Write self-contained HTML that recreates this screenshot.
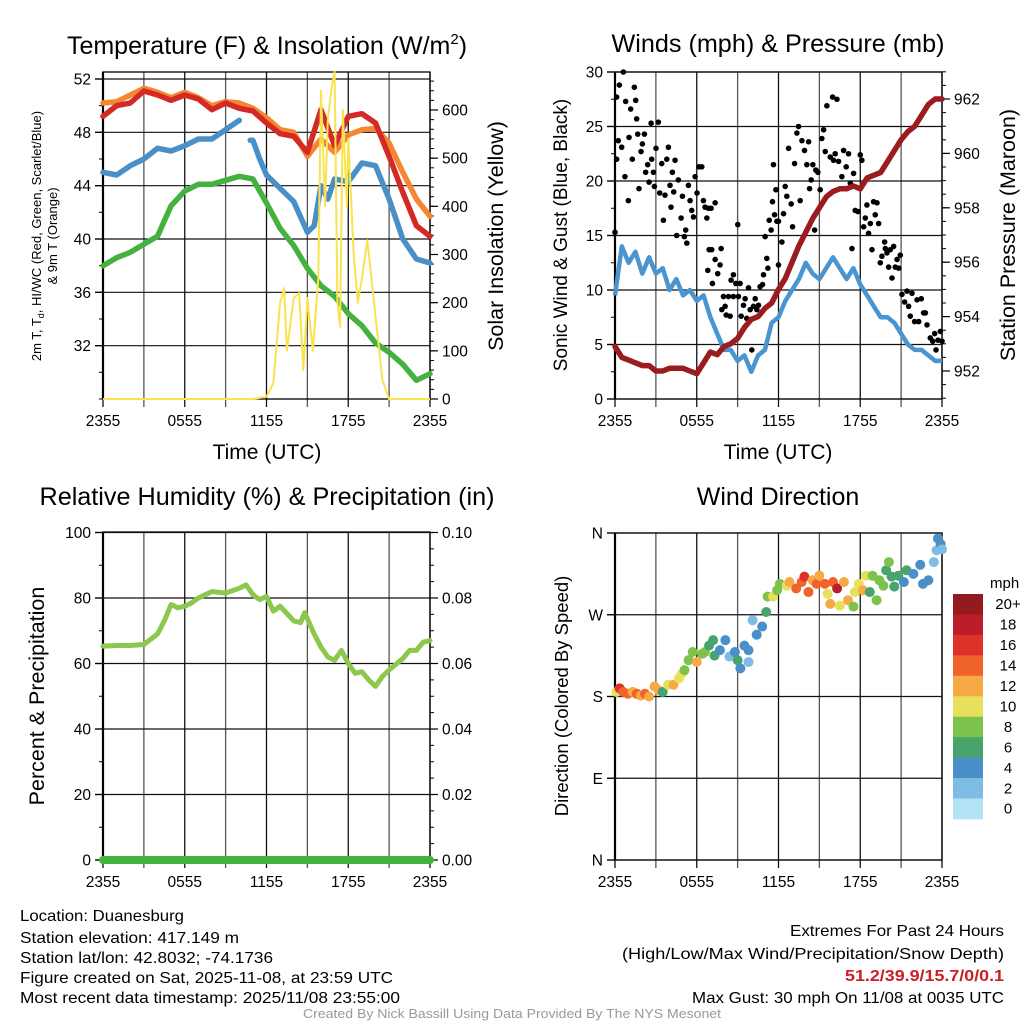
<!DOCTYPE html>
<html><head><meta charset="utf-8"><style>
html,body{margin:0;padding:0;background:#fff;}
svg{display:block;font-family:"Liberation Sans",sans-serif;}
</style></head><body>
<svg id="fig" width="1024" height="1024" viewBox="0 0 1024 1024" xmlns="http://www.w3.org/2000/svg">
<text x="267" y="54" font-size="25" text-anchor="middle">Temperature (F) &amp; Insolation (W/m<tspan dy="-10" font-size="15">2</tspan><tspan dy="10">)</tspan></text>
<text x="778" y="52" font-size="25" text-anchor="middle" textLength="333" lengthAdjust="spacingAndGlyphs">Winds (mph) &amp; Pressure (mb)</text>
<text x="267" y="505" font-size="25" text-anchor="middle" textLength="455" lengthAdjust="spacingAndGlyphs">Relative Humidity (%) &amp; Precipitation (in)</text>
<text x="778" y="505" font-size="25" text-anchor="middle">Wind Direction</text>

<text x="267" y="459" font-size="21" text-anchor="middle">Time (UTC)</text>
<text x="778" y="459" font-size="21" text-anchor="middle">Time (UTC)</text>

<text transform="translate(41,236) rotate(-90)" font-size="13" text-anchor="middle">2m T, T<tspan dy="3" font-size="9">d</tspan><tspan dy="-3">, HI/WC (Red, Green, Scarlet/Blue)</tspan></text>
<text transform="translate(57,236) rotate(-90)" font-size="13" text-anchor="middle">&amp; 9m T (Orange)</text>
<text transform="translate(503,236) rotate(-90)" font-size="21.5" text-anchor="middle">Solar Insolation (Yellow)</text>
<text transform="translate(567,235) rotate(-90)" font-size="19" text-anchor="middle">Sonic Wind &amp; Gust (Blue, Black)</text>
<text transform="translate(1015,235) rotate(-90)" font-size="21.5" text-anchor="middle">Station Pressure (Maroon)</text>
<text transform="translate(44,696) rotate(-90)" font-size="21.5" text-anchor="middle">Percent &amp; Precipitation</text>
<text transform="translate(568,696) rotate(-90)" font-size="18.5" text-anchor="middle">Direction (Colored By Speed)</text>

<g font-size="16">
<text x="20" y="921" textLength="164" lengthAdjust="spacingAndGlyphs">Location: Duanesburg</text>
<text x="20" y="943" textLength="219" lengthAdjust="spacingAndGlyphs">Station elevation: 417.149 m</text>
<text x="20" y="963" textLength="253" lengthAdjust="spacingAndGlyphs">Station lat/lon: 42.8032; -74.1736</text>
<text x="20" y="983" textLength="373" lengthAdjust="spacingAndGlyphs">Figure created on Sat, 2025-11-08, at 23:59 UTC</text>
<text x="20" y="1003" textLength="380" lengthAdjust="spacingAndGlyphs">Most recent data timestamp: 2025/11/08 23:55:00</text>
</g>
<g font-size="16" text-anchor="end">
<text x="1004" y="936" textLength="214" lengthAdjust="spacingAndGlyphs">Extremes For Past 24 Hours</text>
<text x="1004" y="959" textLength="382" lengthAdjust="spacingAndGlyphs">(High/Low/Max Wind/Precipitation/Snow Depth)</text>
<text x="1004" y="981" fill="#c8202a" font-weight="bold" textLength="159" lengthAdjust="spacingAndGlyphs">51.2/39.9/15.7/0/0.1</text>
<text x="1004" y="1003" textLength="312" lengthAdjust="spacingAndGlyphs">Max Gust: 30 mph On 11/08 at 0035 UTC</text>
</g>
<text x="512" y="1018" font-size="13" fill="#999" text-anchor="middle" textLength="418" lengthAdjust="spacingAndGlyphs">Created By Nick Bassill Using Data Provided By The NYS Mesonet</text>
</svg>
<script>
// ---------- data ----------
const hours = [0,1,2,3,4,5,6,7,8,9,10,11,12,13,14,15,16,17,18,19,20,21,22,23,24];
const xTickLabels = ["2355","0555","1155","1755","2355"];
const tempRed = [49.2,50,50.2,51.1,50.8,50.4,50.8,50.5,49.7,50.2,49.8,49.6,48.7,47.9,47.7,46.5,49.7,47,49.2,49.4,48.7,46.2,43.5,41,40.2];
const tempOrange = [50.2,50.3,50.8,51.3,51,50.6,51,50.6,50,50.3,50.2,49.8,49.1,48.2,48,46.2,47.5,46.5,47.8,48.2,48.3,47.2,45,43,41.7];
const tempGreen = [38,38.6,39,39.6,40.2,42.5,43.6,44.1,44.1,44.4,44.7,44.5,42.7,40.8,39.5,37.8,36.5,35.7,34.4,33.5,32.2,31.5,30.6,29.4,29.9];
const blueT = [0,1,2,3,4,5,6,7,8,9,10,10.5,10.8,11,11.5,12,13,14,15,15.5,16,16.5,17,18,19,20,21,22,23,24];
const blueV = [45,44.8,45.5,46,46.8,46.6,47,47.5,47.5,48.2,48.9,null,47.4,47.4,46,44.8,43.8,42.8,40.5,41,44,43,44.5,44.3,45.7,45.5,43,40,38.5,38.2];
const solarT = [0,11,12,12.5,13,13.3,13.5,14,14.4,14.7,15,15.4,15.8,16,16.3,16.5,16.8,17,17.2,17.4,17.6,17.9,18,18.4,18.7,19,19.4,19.9,20.5,21,24];
const solarV = [0,0,5,33,200,230,100,210,220,60,210,100,250,640,400,580,650,680,200,150,600,400,540,300,200,250,330,200,40,0,0];
const tempTicks = [32,36,40,44,48,52];
const solarTicks = [0,100,200,300,400,500,600];

const halfHours = [0,0.5,1,1.5,2,2.5,3,3.5,4,4.5,5,5.5,6,6.5,7,7.5,8,8.5,9,9.5,10,10.5,11,11.5,12,12.5,13,13.5,14,14.5,15,15.5,16,16.5,17,17.5,18,18.5,19,19.5,20,20.5,21,21.5,22,22.5,23,23.5,24];
const windSpeed = [9.5,14,12.5,13.5,11.5,13,11.5,12,10,11,9.5,10,9,9.5,7.5,6,4.5,4.5,3.5,4,2.5,4,4.5,7,7.5,9,10,11,12.5,11.5,11,12,13,12,11,12,10.5,9.5,8.5,7.5,7.5,7,6,5,4.5,4.5,4,3.5,3.5];
const pressure = [952.9,952.5,952.4,952.3,952.2,952.2,952.0,952.0,952.1,952.1,952.1,952.0,951.9,952.3,952.7,952.6,952.9,953.0,953.2,953.6,953.9,954.0,954.3,954.5,955.0,955.4,956.0,956.6,957.1,957.6,958.0,958.4,958.6,958.7,958.7,958.8,958.7,959.1,959.2,959.3,959.7,960.1,960.5,960.8,961.0,961.4,961.8,962.0,962.0];
const gustT = [0,.12,.12,.24,.32,.61,.49,.78,.73,1.03,.98,1.15,1.27,1.42,1.52,1.59,1.67,1.76,1.91,2.01,2.16,2.25,2.4,2.5,2.65,2.69,2.82,2.89,3.01,3.18,3.28,3.43,3.55,3.67,3.8,3.92,4.04,4.11,4.21,4.31,4.41,4.53,4.65,4.85,4.95,5.09,5.19,5.27,5.39,5.51,5.63,5.76,5.88,6.02,6.17,6.37,6.49,6.61,6.74,6.86,7.05,7.35,6.81,6.91,7.1,7.35,7.15,7.54,7.71,7.79,7.84,7.96,8.08,8.16,8.33,8.45,8.52,8.69,8.69,8.87,9.01,9.06,9.18,9.26,9.43,9.55,9.67,9.8,9.92,10.04,10.16,10.29,10.41,10.53,10.65,10.83,10.9,11.02,11.14,11.22,11.32,11.46,11.56,11.63,11.71,11.81,11.88,12,12,12.25,12.37,12.49,12.61,12.74,12.93,13.03,13.18,13.35,13.47,13.59,13.72,13.91,14.08,14.21,14.28,14.4,14.52,14.65,14.74,14.89,15.06,15.18,15.31,15.43,15.55,15.8,15.97,16.04,16.16,16.29,16.41,16.65,16.78,16.97,17.14,17.27,17.39,17.51,17.63,17.83,18,18.12,18.25,18.37,18.49,18.61,18.74,18.86,18.98,19.1,19.23,19.35,19.47,19.59,19.79,19.84,19.96,20.08,20.21,20.33,20.45,20.57,20.7,20.82,20.94,21.06,21.26,21.43,21.55,21.67,21.8,21.99,22.17,22.29,22.48,22.65,22.78,22.9,23.14,23.32,23.46,23.56,23.71,23.88,24];
const gustV = [15.3,27.7,22,23.7,28.8,30,23.1,27.3,20.4,24,18.2,26.6,22,28.6,27.4,25.7,24.3,19.3,22.7,23.4,24.3,20.8,21.5,19.9,25.3,22,20.8,19.5,23,25.4,18.9,21.6,16.4,18.7,22,23.1,19.6,17.6,20.8,19,21.9,15,20.1,16.6,18.6,14.9,15.5,14.3,19.6,18.2,17.3,16.7,20.4,18.9,21.3,21.3,18.2,17.6,16.6,17.5,17.5,18,11.8,13.7,13.7,12.8,10.6,11.5,12.3,13.8,8.2,9.4,8.5,7.7,9.4,7.6,10.9,11.4,9.4,10.6,16,9.4,10.6,7.6,8.6,9.2,7.4,10.2,8.2,4.5,8.5,9.2,8.2,8.6,10.3,10.5,11.4,14.9,12.9,12,16.4,15.5,18.1,21.5,16.9,19.2,16.3,16.3,12.3,14.4,17,19.5,18.6,23,17.9,15.8,21.6,24.4,25,18.2,23.7,22.8,21.5,23.6,19.3,20.1,21.5,15.5,21,20.8,19.2,23.9,24.7,22.7,26.9,22.2,27.7,21.9,22.5,27.5,21.8,20.4,22.8,21.3,22.5,19.8,13.8,20.7,17.3,17.2,22.4,21.9,15.8,16.6,17.8,15.2,16.1,13.7,18.1,16.9,18,16.1,12.5,13.1,14.4,13.8,13.4,12.1,13.7,11.1,14,12.1,12.8,12,13.2,9.6,8.9,9.9,8.5,7.6,9.7,7.1,9.1,7.1,9.2,7.9,7.9,6.8,5.6,5.3,6,4.5,5.4,6.2,5.3];
const windTicks = [0,5,10,15,20,25,30];
const pressureTicks = [952,954,956,958,960,962];

const rhT = [0,1,2,3,4,4.5,5,5.5,6,6.5,7,8,9,10,10.5,11,11.5,12,12.5,13,14,14.5,14.8,15.5,16,16.5,17,17.5,18,18.5,19,19.5,20,20.5,21,22,22.5,23,23.5,24];
const rhV = [65.3,65.5,65.5,65.8,69,73,78,77,77.5,78.5,80,82,81.5,83,84,81,79.5,80.5,76,77.5,73,72.5,75.5,69,65,62,61,64,60,57,57.5,55,53,56,58,61.5,64,64,66.5,67];
const rhTicks = [0,20,40,60,80,100];
const precipTicks = ["0.00","0.02","0.04","0.06","0.08","0.10"];
const precipT = [0,24];
const precipV = [0,0];

const dirT = [.1,.34,.6,.95,1.3,1.6,1.9,2.2,2.5,2.9,3.2,3.5,3.9,4.3,4.7,4.9,5.1,5.4,5.7,6.0,6.4,6.6,6.9,7.2,7.3,7.7,8.1,8.4,8.8,9.0,9.2,9.5,9.8,9.8,10.1,10.4,10.8,11.1,11.2,11.6,11.9,12.1,12.6,12.8,13.3,13.7,13.9,14.2,14.5,14.8,15.0,15.4,15.6,15.8,16.0,16.3,16.5,16.8,17.1,17.5,17.6,17.9,18.2,18.4,18.7,18.9,19.2,19.4,19.7,19.9,20.1,20.3,20.5,20.8,21.2,21.4,21.9,22.4,22.6,23.0,23.4,23.6,23.7,23.9,24];
const dirDeg = [185,189,185,183,185,183,181,183,180,191,187,185,193,193,200,205,209,220,229,218,227,229,236,242,225,231,242,224,229,220,211,236,231,218,264,248,257,273,290,290,297,304,302,306,299,306,312,295,308,304,313,304,293,282,306,299,280,306,286,279,295,304,297,313,295,313,286,308,302,319,328,312,301,313,306,319,315,325,304,308,328,341,354,348,342];
const dirSpeed = [10,16,14,14,12,15,12,14,12,12,12,7,10,12,10,10,8,8,8,12,8,8,6,6,6,4,4,2,4,6,4,4,4,2,2,4,4,6,8,10,8,8,10,12,14,14,16,14,12,14,12,14,10,12,14,18,10,12,12,8,10,10,12,10,6,8,8,8,8,6,8,6,6,6,4,6,4,4,4,4,2,2,4,4,2];
const dirTicks = ["N","E","S","W","N"];
const speedBins = ["0","2","4","6","8","10","12","14","16","18","20+"];
const speedColors = ["#b5e3f6","#7ebce5","#4a8fc7","#48a46c","#7dc24a","#e6e05a","#f6a945","#f0632b","#dc3228","#bc1d2b","#931a1d"];

// ---------- helpers ----------
const NS = "http://www.w3.org/2000/svg";
const svg = document.getElementById("fig");
function mk(tag, attrs, parent){ const e=document.createElementNS(NS,tag); for(const k in attrs) e.setAttribute(k,attrs[k]); (parent||svg).appendChild(e); return e; }
function linear(d0,d1,r0,r1){ return v => r0 + (v-d0)*(r1-r0)/(d1-d0); }
function pathFrom(ts, vs, sx, sy){ let d="", pen=false; for(let i=0;i<ts.length;i++){ if(vs[i]===null){pen=false;continue;} d += (pen?"L":"M")+sx(ts[i]).toFixed(1)+","+sy(vs[i]).toFixed(1); pen=true;} return d; }

function frame(x0,x1,yT,yB,name){
  const g = mk("g",{});
  
  
  const sx = linear(0,24,x0,x1);
  for(let h=0;h<=24;h+=3){
    const x=sx(h);
    const gl = mk("line",{x1:x,x2:x,y1:yT,y2:yB+8,stroke:(h%6===0?"#111":"#555"),"stroke-width":1.3},g);
    
    
  }
  xTickLabels.forEach((lab,i)=>{
    const t = mk("text",{x:sx(i*6),y:yB+27,"font-size":15.5,"text-anchor":"middle"},g);
    t.textContent = lab;
    
    
  });
  const r = mk("rect",{x:x0,y:yT,width:x1-x0,height:yB-yT,fill:"none",stroke:"#000","stroke-width":1.3},g);
  
  
  mk("line",{x1:x0,x2:x0,y1:yT,y2:yB,stroke:"#000","stroke-width":2.2},g);
  return {g,sx};
}
function yAxis(g, ticks, labels, sy, x0, x1, side, minorStep, lo, hi, grid){
  ticks.forEach((v,i)=>{
    const y = sy(v);
    if(grid){ const l=mk("line",{x1:x0-8,x2:x1,y1:y,y2:y,stroke:"#111","stroke-width":1.2},g);
        }
    const ax = side==="left"?x0:x1;
    mk("line",{x1:ax,x2:side==="left"?ax-8:ax+8,y1:y,y2:y,stroke:"#000","stroke-width":1.2},g);
    const t = mk("text",{x:side==="left"?x0-12:x1+12,y:y+5.5,"font-size":15.5,"text-anchor":side==="left"?"end":"start"},g);
    t.textContent = labels[i];
    
    
  });
  if(minorStep){
    for(let v=lo; v<=hi+1e-9; v+=minorStep){
      const y=sy(v); const ax = side==="left"?x0:x1;
      mk("line",{x1:ax,x2:side==="left"?ax-4:ax+4,y1:y,y2:y,stroke:"#000","stroke-width":1},g);
    }
  }
}

// ---------- Panel 1: temperature ----------
(function(){
  const x0=103,x1=430,yT=72,yB=399;
  const {g,sx} = frame(x0,x1,yT,yB,"temperature");
  const sy = linear(28,52,yB,79);
  const ss = linear(0,600,yB,110);
  yAxis(g,tempTicks,tempTicks.map(String),sy,x0,x1,"left",2,28,52.5,true);
  yAxis(g,solarTicks,solarTicks.map(String),ss,x0,x1,"right",20,0,670,false);
  const series = [[hours,tempOrange,"#f58632","orange-9m-temp-line"],[hours,tempRed,"#d42a26","red-2m-temp-line"],[blueT,blueV,"#4a90c8","blue-windchill-line"],[hours,tempGreen,"#45b13f","green-dewpoint-line"]];
  series.forEach(s=>{
    const p = mk("path",{d:pathFrom(s[0],s[1],sx,sy),fill:"none",stroke:s[2],"stroke-width":5.5,"stroke-linejoin":"round","stroke-linecap":"round"});
    
    
  });
  const sp = mk("path",{d:pathFrom(solarT,solarV,sx,ss),fill:"none",stroke:"#f9e44f","stroke-width":2,"stroke-linejoin":"round"});
  
  
})();

// ---------- Panel 2: winds ----------
(function(){
  const x0=615,x1=942,yT=72,yB=399;
  const {g,sx} = frame(x0,x1,yT,yB,"winds");
  const sy = linear(0,30,yB,72);
  const sp = linear(952,962,371,99);
  yAxis(g,windTicks,windTicks.map(String),sy,x0,x1,"left",2.5,0,30,true);
  yAxis(g,pressureTicks,pressureTicks.map(String),sp,x0,x1,"right",0.5,951,963,false);
  const w = mk("path",{d:pathFrom(halfHours,windSpeed,sx,sy),fill:"none",stroke:"#4a95d0","stroke-width":4.5,"stroke-linejoin":"round"});
  
  
  gustT.forEach((t,i)=>{
    const c = mk("circle",{cx:sx(t),cy:sy(gustV[i]),r:2.8,fill:"#000"});
    
    
  });
  const p = mk("path",{d:pathFrom(halfHours,pressure,sx,sp),fill:"none",stroke:"#9b1c1f","stroke-width":5.5,"stroke-linejoin":"round","stroke-linecap":"round"});
  
  
})();

// ---------- Panel 3: RH ----------
(function(){
  const x0=103,x1=430,yT=532,yB=860;
  const {g,sx} = frame(x0,x1,yT,yB,"humidity");
  const sy = linear(0,100,yB,532.5);
  yAxis(g,rhTicks,rhTicks.map(String),sy,x0,x1,"left",10,0,100,true);
  yAxis(g,rhTicks,precipTicks,sy,x0,x1,"right",5,0,100,false);
  const l = mk("path",{d:pathFrom(rhT,rhV,sx,sy),fill:"none",stroke:"#8cc84b","stroke-width":5,"stroke-linejoin":"round","stroke-linecap":"round"});
  
  
  const ps = linear(0,0.1,yB,532.5);
  const pp = mk("path",{d:pathFrom(precipT,precipV,sx,ps),fill:"none",stroke:"#45b13f","stroke-width":8,"stroke-linecap":"round"});
  
  
})();

// ---------- Panel 4: wind direction ----------
(function(){
  const x0=615,x1=942,yT=533,yB=860;
  const {g,sx} = frame(x0,x1,yT,yB,"direction");
  const sy = linear(0,360,yB,533);
  yAxis(g,[0,90,180,270,360],dirTicks,sy,x0,x1,"left",0,0,0,true);
  dirT.forEach((t,i)=>{
    const bin = Math.min(10, Math.floor(dirSpeed[i]/2));
    const c = mk("circle",{cx:sx(t),cy:sy(dirDeg[i]),r:5,fill:speedColors[bin]});
    
    
  });
  const cb = mk("g",{});
  
  
  const top=594, h=20.45;
  const u = mk("text",{x:990,y:588,"font-size":15},cb);
  u.textContent="mph";
  
  
  for(let i=0;i<speedBins.length;i++){
    const k = speedBins.length-1-i;
    const r = mk("rect",{x:953,y:top+i*h,width:30,height:h+0.5,fill:speedColors[k]},cb);
    
    
    const t = mk("text",{x:1008,y:top+i*h+h/2+5,"font-size":15,"text-anchor":"middle"},cb);
    t.textContent = speedBins[k];
    
    
  }
})();
</script>
</body></html>
